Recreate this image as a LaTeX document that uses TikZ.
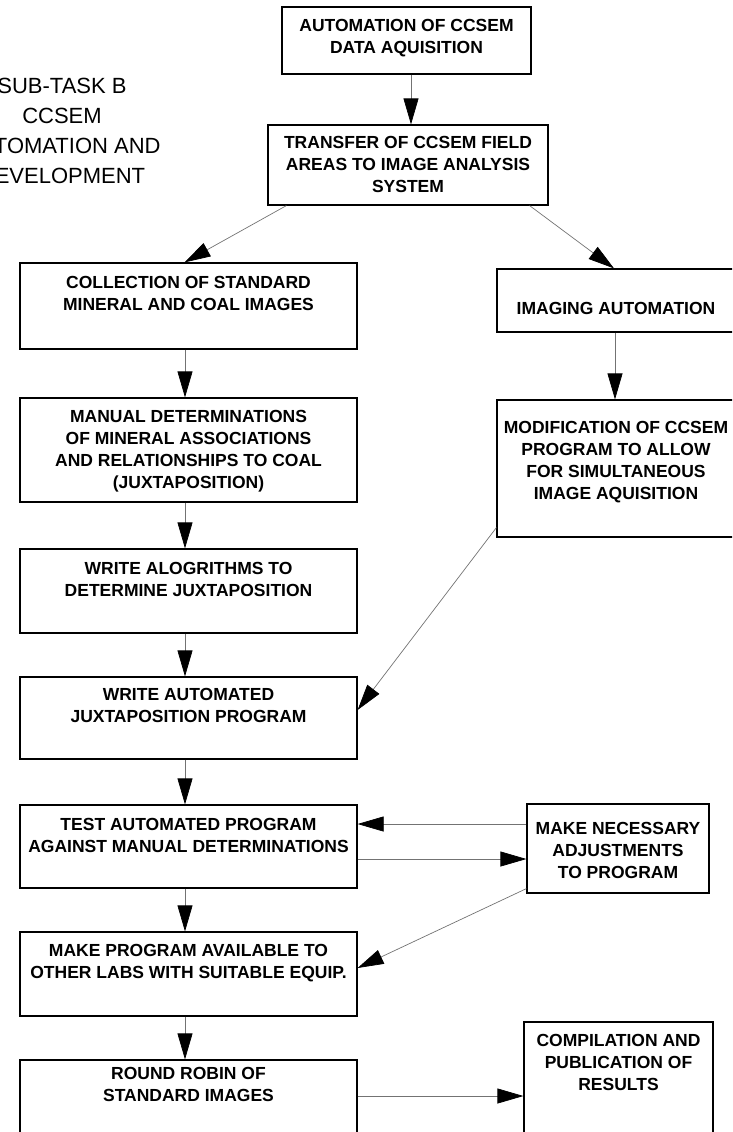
\documentclass[tikz,border=0pt]{standalone}
\usepackage{fontspec}
\setmainfont{Liberation Sans}
\usetikzlibrary{arrows.meta}

\begin{document}
\begin{tikzpicture}[x=1pt, y=-1pt,
    task/.style={rectangle, draw=black, line width=1.2pt, inner sep=0pt, minimum width=337pt},
    tasktext/.style={anchor=north, align=center, inner sep=0pt, font=\fontsize{17.5}{22}\selectfont\bfseries},
    arrow/.style={draw=black!55, line width=0.7pt, -{Triangle[length=26pt, width=15pt, color=black, fill=black]}}
]
    \useasboundingbox (0,0) rectangle (732,1132);
    \clip (0,0) rectangle (732,1132);

    % Title
    \node[anchor=north, align=center, inner sep=0pt, font=\fontsize{22}{30}\selectfont] (title) at (62,77.5) {SUB-TASK B\\CCSEM\\AUTOMATION AND\\DEVELOPMENT};

    % Top of the chart
    \node[task, minimum width=249pt, minimum height=67pt, label={[tasktext, yshift=-13pt]north:{AUTOMATION OF CCSEM\\DATA AQUISITION}}] (acquire) at (406.5,40.5) {};
    \node[task, minimum width=280pt, minimum height=80pt, label={[tasktext, yshift=-12pt]north:{TRANSFER OF CCSEM FIELD\\AREAS TO IMAGE ANALYSIS\\SYSTEM}}] (transfer) at (408,165) {};

    % Left column
    \node[task, minimum height=86pt, label={[tasktext, yshift=-14pt]north:{COLLECTION OF STANDARD\\MINERAL AND COAL IMAGES}}] (collect) at (188.5,306) {};
    \node[task, minimum height=104pt, label={[tasktext, yshift=-13pt]north:{MANUAL DETERMINATIONS\\OF MINERAL ASSOCIATIONS\\AND RELATIONSHIPS TO COAL\\(JUXTAPOSITION)}}] (manual) at (188.5,450) {};
    \node[task, minimum height=84pt, label={[tasktext, yshift=-14pt]north:{WRITE ALOGRITHMS TO\\DETERMINE JUXTAPOSITION}}] (algo) at (188.5,591) {};
    \node[task, minimum height=82pt, label={[tasktext, yshift=-12pt]north:{WRITE AUTOMATED\\JUXTAPOSITION PROGRAM}}] (juxta) at (188.5,718) {};
    \node[task, minimum height=83pt, label={[tasktext, yshift=-14pt]north:{TEST AUTOMATED PROGRAM\\AGAINST MANUAL DETERMINATIONS}}] (test) at (188.5,846.5) {};
    \node[task, minimum height=84pt, label={[tasktext, yshift=-13pt]north:{MAKE PROGRAM AVAILABLE TO\\OTHER LABS WITH SUITABLE EQUIP.}}] (avail) at (188.5,974) {};
    \node[task, minimum height=85pt, label={[tasktext, yshift=-8pt]north:{ROUND ROBIN OF\\STANDARD IMAGES}}] (robin) at (188.5,1102.5) {};

    % Right column
    \node[task, minimum width=238pt, minimum height=63pt, label={[tasktext, yshift=-34pt]north:{IMAGING AUTOMATION}}] (imaging) at (616,300.5) {};
    \node[task, minimum width=238pt, minimum height=137pt, label={[tasktext, yshift=-22pt]north:{MODIFICATION OF CCSEM\\PROGRAM TO ALLOW\\FOR SIMULTANEOUS\\IMAGE AQUISITION}}] (modify) at (616,468.5) {};
    \node[task, minimum width=182pt, minimum height=89pt, label={[tasktext, yshift=-19pt]north:{MAKE NECESSARY\\ADJUSTMENTS\\TO PROGRAM}}] (adjust) at (618,848.5) {};
    \node[task, minimum width=189pt, minimum height=118pt, label={[tasktext, yshift=-13pt]north:{COMPILATION AND\\PUBLICATION OF\\RESULTS}}] (publish) at (618.5,1081) {};

    % Arrows
    \draw[arrow] ([xshift=4.5pt]acquire.south) -- ([xshift=3pt]transfer.north);
    \draw[arrow] ([xshift=19pt]transfer.south west) -- ([xshift=-4pt]collect.north);
    \draw[arrow] ([xshift=-19pt]transfer.south east) -- ([xshift=-2pt]imaging.north);
    \draw[arrow] ([xshift=-3.5pt]collect.south) -- ([xshift=-3.5pt]manual.north);
    \draw[arrow] ([xshift=-3.5pt]manual.south) -- ([xshift=-3.5pt]algo.north);
    \draw[arrow] ([xshift=-3.5pt]algo.south) -- ([xshift=-3.5pt]juxta.north);
    \draw[arrow] ([xshift=-3.5pt]juxta.south) -- ([xshift=-3.5pt]test.north);
    \draw[arrow] ([xshift=-3.5pt]test.south) -- ([xshift=-3.5pt]avail.north);
    \draw[arrow] ([xshift=-3.5pt]avail.south) -- ([xshift=-3.5pt]robin.north);
    \draw[arrow] ([xshift=-1pt]imaging.south) -- ([xshift=-1pt]modify.north);
    \draw[arrow] ([yshift=10pt]modify.south west) -- ([yshift=8pt]juxta.east);

    \coordinate (fixin) at ([yshift=24.5pt]adjust.west);
    \coordinate (fixout) at ([yshift=-10.5pt]adjust.west);
    \draw[arrow] (fixin) -- (fixin -| test.east);
    \draw[arrow] (fixout -| test.east) -- (fixout);
    \draw[arrow] ([yshift=5pt]adjust.south west) -- ([yshift=6pt]avail.east);

    \coordinate (pubin) at ([yshift=6.5pt]robin.east);
    \draw[arrow] (pubin) -- (pubin -| publish.west);
\end{tikzpicture}
\end{document}
